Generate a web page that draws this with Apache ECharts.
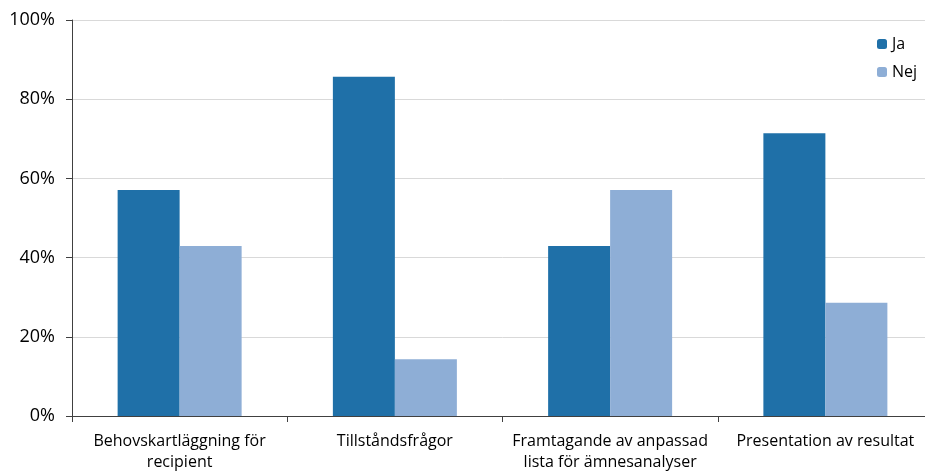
<!DOCTYPE html>
<html>
<head>
<meta charset="utf-8">
<script src="https://cdn.jsdelivr.net/npm/echarts@6/dist/echarts.min.js"></script>
<style>
html,body{margin:0;padding:0;background:#fff;overflow:hidden;}
#chart{width:933px;height:473px;}
</style>
</head>
<body>
<div id="chart"></div>
<script>
// Kategorier och andelar (%)
const categories = [
  'Behovskartläggning för\nrecipient',
  'Tillståndsfrågor',
  'Framtagande av anpassad\nlista för ämnesanalyser',
  'Presentation av resultat'
];
const jaValues = [57.1, 85.7, 42.9, 71.4];
const nejValues = [42.9, 14.3, 57.1, 28.6];
const yTicks = [0, 20, 40, 60, 80, 100];

const font = '"Open Sans", "Noto Sans", sans-serif';
const chart = echarts.init(document.getElementById('chart'));
chart.setOption({
  animation: false,
  backgroundColor: '#fff',
  textStyle: { fontFamily: font },
  grid: { left: 72, right: 0, top: 20, bottom: 56 },
  legend: {
    orient: 'vertical',
    left: 872,
    top: 31,
    itemWidth: 10,
    itemHeight: 10,
    itemGap: 12,
    textStyle: { fontSize: 16, color: '#000', fontFamily: font },
    data: ['Ja', 'Nej']
  },
  xAxis: {
    type: 'category',
    data: categories,
    axisLine: { lineStyle: { color: '#404040', width: 1 } },
    axisTick: { show: true, length: 6, alignWithLabel: false, lineStyle: { color: '#404040' } },
    axisLabel: { fontSize: 16, color: '#000', margin: 15, lineHeight: 21, interval: 0, fontFamily: font }
  },
  yAxis: {
    type: 'value',
    min: 0,
    max: yTicks[yTicks.length - 1],
    interval: 20,
    axisLine: { show: true, lineStyle: { color: '#404040', width: 1 } },
    axisTick: { show: true, length: 6, lineStyle: { color: '#404040' } },
    axisLabel: { fontSize: 18, color: '#000', margin: 17, formatter: v => v + '%', fontFamily: font },
    splitLine: { lineStyle: { color: '#d9d9d9', width: 1 } }
  },
  series: [
    {
      name: 'Ja',
      type: 'bar',
      data: jaValues,
      barWidth: 62,
      barGap: '0%',
      itemStyle: { color: '#1f70a8' }
    },
    {
      name: 'Nej',
      type: 'bar',
      data: nejValues,
      barWidth: 62,
      itemStyle: { color: '#8eaed6' }
    }
  ]
});
</script>
</body>
</html>
